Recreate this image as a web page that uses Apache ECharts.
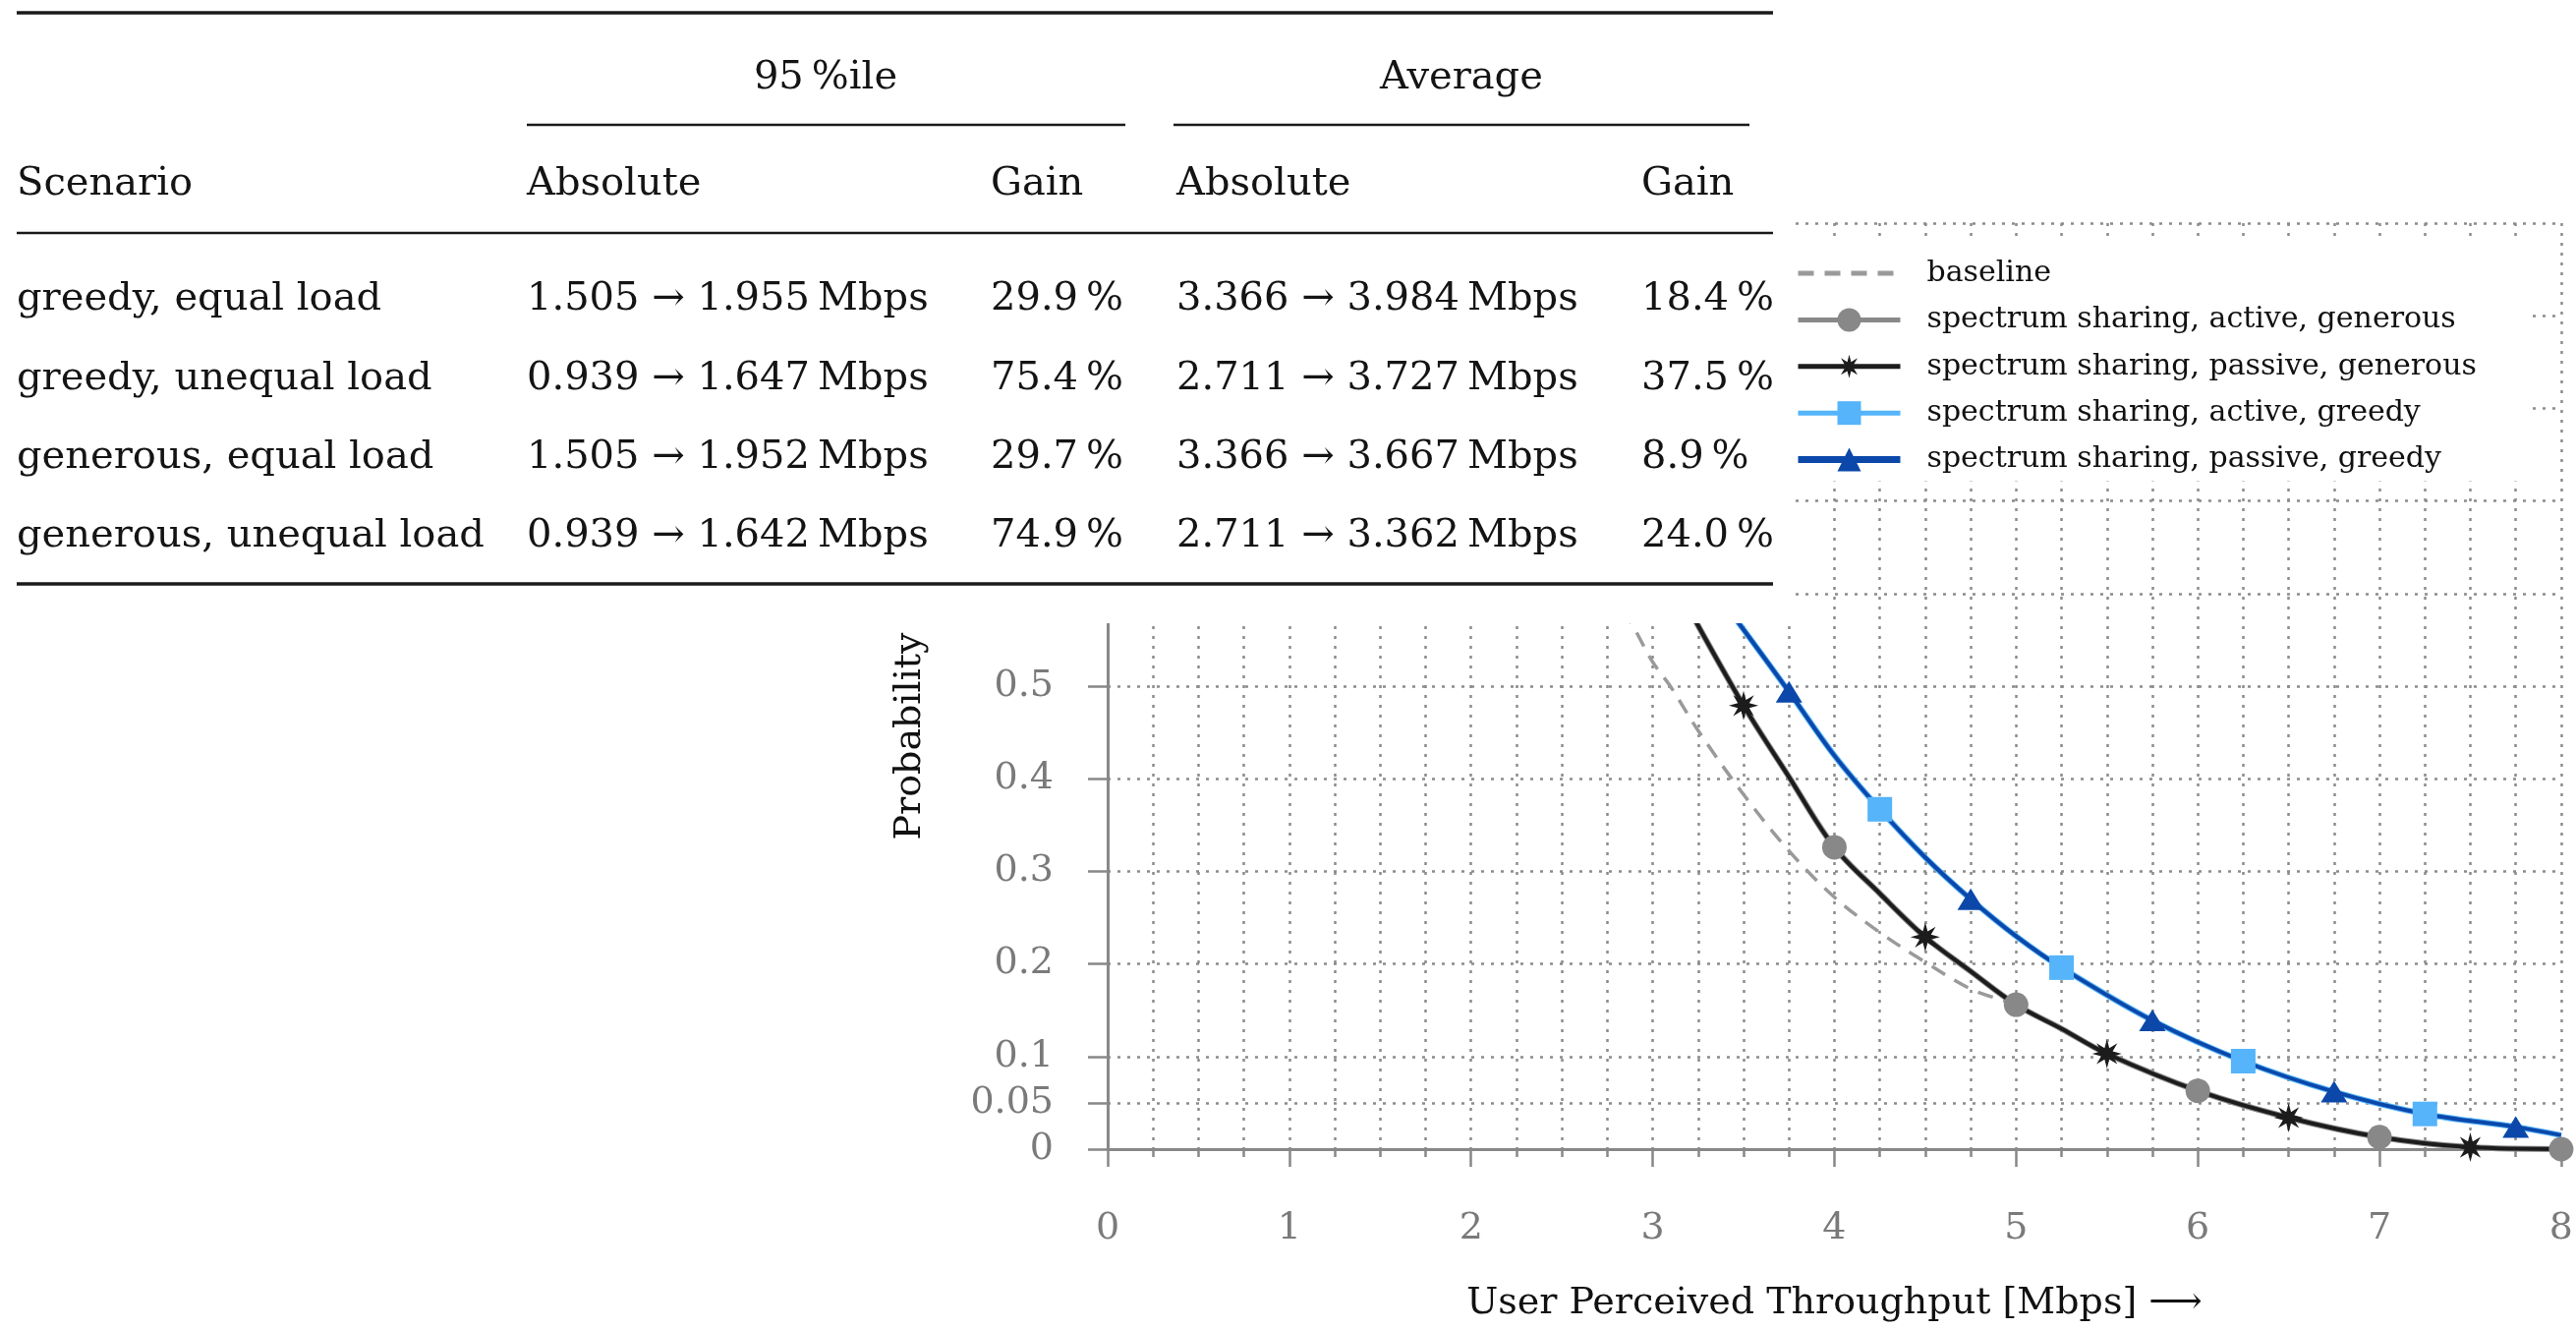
<!DOCTYPE html>
<html>
<head>
<meta charset="utf-8">
<script src="https://cdn.jsdelivr.net/npm/echarts@6/dist/echarts.min.js"></script>
<style>
  html, body { margin: 0; padding: 0; background: #fff; }
  #chart { width: 2621px; height: 1353px; }
</style>
</head>
<body>
<div id="chart"></div>
<script>
// ---------------- summary table ----------------
const scenarios = ['greedy, equal load', 'greedy, unequal load', 'generous, equal load', 'generous, unequal load'];
const p95Before = [1.505, 0.939, 1.505, 0.939];
const p95After  = [1.955, 1.647, 1.952, 1.642];
const p95Gain   = [29.9, 75.4, 29.7, 74.9];
const avgBefore = [3.366, 2.711, 3.366, 2.711];
const avgAfter  = [3.984, 3.727, 3.667, 3.362];
const avgGain   = [18.4, 37.5, 8.9, 24.0];

// ---------------- throughput CCDF curves ----------------
const baselineX = [2.84, 2.90, 3.0, 3.1, 3.25, 3.5, 3.75, 4.0, 4.25, 4.5, 4.75, 5.0, 5.5, 6.0, 6.5, 7.0, 7.5, 8.0];
const baselineY = [0.583, 0.562, 0.526, 0.499, 0.452, 0.383, 0.322, 0.272, 0.234, 0.202, 0.173, 0.155, 0.103, 0.062, 0.033, 0.013, 0.002, 0.0];

const generousX        = [3.2, 3.5, 3.75, 4.0, 4.25, 4.5, 4.75, 5.0, 5.25, 5.5, 6.0, 6.5, 7.0, 7.5, 8.0];
const activeGenerousY  = [0.583, 0.479, 0.402, 0.326, 0.276, 0.229, 0.192, 0.156, 0.130, 0.103, 0.063, 0.034, 0.013, 0.002, 0.0];
const passiveGenerousY = [0.583, 0.479, 0.402, 0.326, 0.276, 0.229, 0.192, 0.156, 0.130, 0.103, 0.063, 0.034, 0.013, 0.002, 0.0];

const greedyX        = [3.44, 3.5, 3.75, 4.0, 4.25, 4.5, 4.75, 5.0, 5.25, 5.75, 6.25, 6.75, 7.25, 7.75, 8.0];
const activeGreedyY  = [0.577, 0.561, 0.494, 0.425, 0.367, 0.315, 0.270, 0.230, 0.196, 0.139, 0.095, 0.062, 0.038, 0.024, 0.015];
const passiveGreedyY = [0.577, 0.561, 0.494, 0.425, 0.367, 0.315, 0.270, 0.230, 0.196, 0.139, 0.095, 0.062, 0.038, 0.024, 0.015];

// positions of the plot marks along each curve
const activeGenerousMarks  = [4, 5, 6, 7, 8];
const passiveGenerousMarks = [3.5, 4.5, 5.5, 6.5, 7.5];
const activeGreedyMarks    = [4.25, 5.25, 6.25, 7.25];
const passiveGreedyMarks   = [3.75, 4.75, 5.75, 6.75, 7.75];

const probTicks = [0, 0.05, 0.1, 0.2, 0.3, 0.4, 0.5, 0.6, 0.7, 0.8, 0.9, 1.0];

const seriesNames = [
  'baseline',
  'spectrum sharing, active, generous',
  'spectrum sharing, passive, generous',
  'spectrum sharing, active, greedy',
  'spectrum sharing, passive, greedy'
];

// ---------------- helpers ----------------
const curve = (xs, ys) => xs.map((x, i) => [x, ys[i]]);
const marks = (xs, ys, at) => at.map(x => [x, ys[xs.indexOf(x)]]);

function asteriskPath(points, inner) {
  let d = '';
  for (let k = 0; k < 2 * points; k++) {
    const a = Math.PI * k / points - Math.PI / 2;
    const r = k % 2 === 0 ? 50 : 50 * inner;
    d += (k ? 'L' : 'M') + (50 + r * Math.cos(a)).toFixed(2) + ',' + (50 + r * Math.sin(a)).toFixed(2);
  }
  return 'path://' + d + 'Z';
}
const STAR = asteriskPath(8, 0.42);

const SERIF = 'DejaVu Serif';
const GRID_LINE = { color: '#8c8c8c', width: 2.5, type: [3, 7] };
const AXIS_GRAY = '#888888';

const C_BASE = '#9a9a9a', C_GRAY = '#888888', C_BLACK = '#1c1c1c', C_LIGHT = '#55b4fa', C_DARK = '#0b48aa';

// ---------------- table graphics ----------------
const colX = [17, 536, 1008, 1197, 1670];
const rowY0 = 305, rowStep = 80.3;
const TABLE_FONT = '40px "DejaVu Serif"';

function txt(x, y, s, align) {
  return {
    type: 'text', x: x, y: y, z: 101,
    style: {
      text: s, font: TABLE_FONT, fill: '#141414',
      textAlign: align || 'left', align: align || 'left',
      textVerticalAlign: 'middle', verticalAlign: 'middle'
    }
  };
}
function rule(x1, x2, yc, h) {
  return { type: 'rect', z: 101, shape: { x: x1, y: yc - h / 2, width: x2 - x1, height: h }, style: { fill: '#1a1a1a' } };
}
const fmtAbs = (a, b) => a.toFixed(3) + ' \u2192 ' + b.toFixed(3) + '\u2009Mbps';
const fmtGain = g => g.toFixed(1) + '\u2009%';

const tableEls = [
  { type: 'rect', z: 100, shape: { x: 0, y: 0, width: 1826, height: 634 }, style: { fill: '#ffffff' } },
  rule(17, 1804, 13, 3.5),
  txt(840, 80, '95\u2009%ile', 'center'),
  txt(1487, 80, 'Average', 'center'),
  rule(536, 1145, 127, 2.5),
  rule(1194, 1780, 127, 2.5),
  txt(colX[0], 188, 'Scenario'),
  txt(colX[1], 188, 'Absolute'),
  txt(colX[2], 188, 'Gain'),
  txt(colX[3], 188, 'Absolute'),
  txt(colX[4], 188, 'Gain'),
  rule(17, 1804, 237, 2.5),
  rule(17, 1804, 594, 3.5)
];
scenarios.forEach((s, i) => {
  const y = rowY0 + i * rowStep;
  tableEls.push(txt(colX[0], y, s));
  tableEls.push(txt(colX[1], y, fmtAbs(p95Before[i], p95After[i])));
  tableEls.push(txt(colX[2], y, fmtGain(p95Gain[i])));
  tableEls.push(txt(colX[3], y, fmtAbs(avgBefore[i], avgAfter[i])));
  tableEls.push(txt(colX[4], y, fmtGain(avgGain[i])));
});
tableEls.push({
  type: 'text', x: 926, y: 749, rotation: Math.PI / 2, z: 101,
  style: { text: 'Probability', font: '38px "DejaVu Serif"', fill: '#111111',
           textAlign: 'center', align: 'center', textVerticalAlign: 'middle', verticalAlign: 'middle' }
});

// ---------------- chart ----------------
const chart = echarts.init(document.getElementById('chart'), null, { renderer: 'canvas' });

const lineSeries = (name, data, color, width, z, symbol, extra) => Object.assign({
  name: name, type: 'line', data: data, smooth: 0.35, z: z,
  showSymbol: false, symbol: symbol, symbolSize: 24,
  lineStyle: { color: color, width: width },
  itemStyle: { color: color },
  emphasis: { disabled: true }
}, extra || {});

const markSeries = (name, data, color, symbol, size) => ({
  name: name, type: 'scatter', data: data, z: 10,
  symbol: symbol, symbolSize: size,
  itemStyle: { color: color, opacity: 1 },
  emphasis: { disabled: true }
});

chart.setOption({
  animation: false,
  backgroundColor: '#ffffff',
  textStyle: { fontFamily: SERIF },
  grid: { left: 1127, right: 14, top: 227, bottom: 184, containLabel: false },
  xAxis: {
    type: 'value', min: 0, max: 8, interval: 1,
    axisLine: { show: true, lineStyle: { color: AXIS_GRAY, width: 3 } },
    axisTick: { show: true, length: 18, lineStyle: { color: AXIS_GRAY, width: 2.5 } },
    minorTick: { show: true, splitNumber: 4, length: 8, lineStyle: { color: AXIS_GRAY, width: 2.5 } },
    splitLine: { show: true, lineStyle: GRID_LINE },
    minorSplitLine: { show: true, lineStyle: GRID_LINE },
    axisLabel: { margin: 62, fontFamily: SERIF, fontSize: 38, color: '#7a7a7a' },
    name: 'User Perceived Throughput [Mbps] \u27F6',
    nameLocation: 'middle', nameGap: 138,
    nameTextStyle: { fontFamily: SERIF, fontSize: 38, color: '#111111' }
  },
  yAxis: {
    type: 'value', min: 0, max: 1, interval: 0.1,
    axisLine: { show: true, lineStyle: { color: AXIS_GRAY, width: 3 } },
    axisTick: { show: true, length: 20, customValues: probTicks, lineStyle: { color: AXIS_GRAY, width: 2.5 } },
    axisLabel: { customValues: probTicks, margin: 55, fontFamily: SERIF, fontSize: 38, color: '#7a7a7a' },
    splitLine: { show: true, lineStyle: GRID_LINE }
  },
  legend: {
    orient: 'vertical', left: 1826, top: 245,
    padding: [14, 55, 3, 0],
    backgroundColor: '#ffffff',
    itemWidth: 104, itemHeight: 30, itemGap: 9.4,
    formatter: '{t|{name}}',
    textStyle: {
      fontFamily: SERIF, fontSize: 30, color: '#111111', lineHeight: 38, padding: [0, 0, 0, 22],
      rich: { t: { fontFamily: SERIF, fontSize: 30, color: '#111111', lineHeight: 38 } }
    },
    data: [
      { name: seriesNames[0], itemStyle: { opacity: 0 }, lineStyle: { width: 5 } },
      { name: seriesNames[1], lineStyle: { width: 5 } },
      { name: seriesNames[2], lineStyle: { width: 5 } },
      { name: seriesNames[3], lineStyle: { width: 5 } },
      { name: seriesNames[4], lineStyle: { width: 7 } }
    ]
  },
  graphic: { elements: tableEls },
  series: [
    lineSeries(seriesNames[0], curve(baselineX, baselineY), C_BASE, 3.5, 2, 'none',
               { lineStyle: { color: C_BASE, width: 3.5, type: [16, 11] } }),
    lineSeries(seriesNames[1], curve(generousX, activeGenerousY), C_GRAY, 6, 3, 'circle'),
    lineSeries(seriesNames[2], curve(generousX, passiveGenerousY), C_BLACK, 4, 4, STAR),
    lineSeries(seriesNames[3], curve(greedyX, activeGreedyY), C_LIGHT, 6, 5, 'rect'),
    lineSeries(seriesNames[4], curve(greedyX, passiveGreedyY), C_DARK, 4, 6, 'triangle'),
    markSeries(seriesNames[1], marks(generousX, activeGenerousY, activeGenerousMarks), C_GRAY, 'circle', 25),
    markSeries(seriesNames[2], marks(generousX, passiveGenerousY, passiveGenerousMarks), C_BLACK, STAR, 30),
    markSeries(seriesNames[3], marks(greedyX, activeGreedyY, activeGreedyMarks), C_LIGHT, 'rect', 25),
    markSeries(seriesNames[4], marks(greedyX, passiveGreedyY, passiveGreedyMarks), C_DARK, 'triangle', [27, 22])
  ]
});
</script>
</body>
</html>
